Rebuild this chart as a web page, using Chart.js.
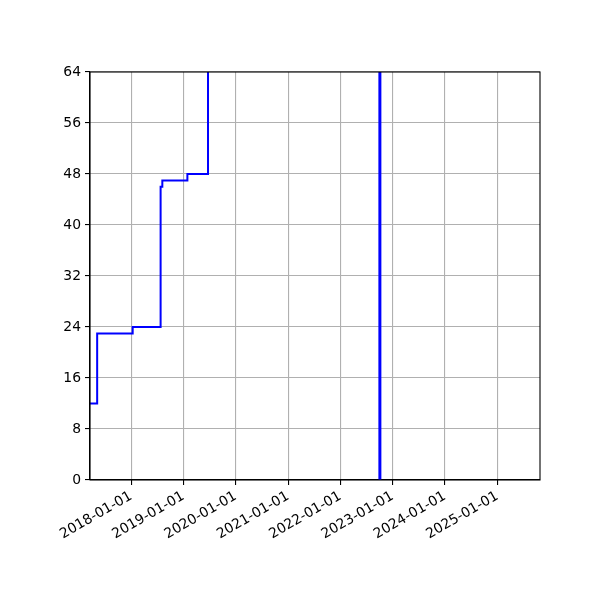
<!DOCTYPE html>
<html>
<head>
<meta charset="utf-8">
<script src="https://cdn.jsdelivr.net/npm/chart.js@4.4.1/dist/chart.umd.min.js"></script>
<style>
  html, body { margin: 0; padding: 0; background: #ffffff; }
  #wrap { width: 600px; height: 600px; }
</style>
</head>
<body>
<div id="wrap"><canvas id="c" width="600" height="600"></canvas></div>
<script>
// ---- data ----
const stepDates = ['2017-01-01', '2017-05-09', '2018-01-12', '2018-07-26', '2018-08-07', '2019-01-29', '2019-06-22'];
const stepValues = [12, 23, 24, 46, 47, 48, 128];
const markerDate = '2022-10-04';
const markerValues = [0, 64];
const xTickLabels = ['2018-01-01', '2019-01-01', '2020-01-01', '2021-01-01', '2022-01-01', '2023-01-01', '2024-01-01', '2025-01-01'];
const xRange = ['2017-03-20', '2025-10-26'];
const yTicks = [0, 8, 16, 24, 32, 40, 48, 56, 64];

const toMs = s => Date.parse(s + 'T00:00:00Z');
const fmt = v => {
  const d = new Date(v);
  const p = n => String(n).padStart(2, '0');
  return d.getUTCFullYear() + '-' + p(d.getUTCMonth() + 1) + '-' + p(d.getUTCDate());
};

const stepData = stepDates.map((d, i) => ({ x: toMs(d), y: stepValues[i] }));
const markerData = markerValues.map(v => ({ x: toMs(markerDate), y: v }));

const frame = {
  id: 'frame',
  afterDatasetsDraw(chart) {
    const a = chart.chartArea, ctx = chart.ctx;
    ctx.save();
    ctx.strokeStyle = '#000';
    ctx.lineWidth = 1.1;
    ctx.strokeRect(a.left, a.top, a.right - a.left, a.bottom - a.top);
    ctx.restore();
  }
};

const font = { family: 'DejaVu Sans', size: 13.9 };

new Chart(document.getElementById('c'), {
  type: 'line',
  data: {
    datasets: [
      { data: stepData, borderColor: '#0000ff', borderWidth: 2, stepped: 'before', pointRadius: 0, fill: false },
      { data: markerData, borderColor: '#0000ff', borderWidth: 3, pointRadius: 0, fill: false }
    ]
  },
  options: {
    responsive: false,
    animation: false,
    devicePixelRatio: 1,
    layout: { padding: { left: 0, top: 72, right: 60, bottom: 0 } },
    plugins: { legend: { display: false }, tooltip: { enabled: false } },
    scales: {
      x: {
        type: 'linear',
        min: toMs(xRange[0]),
        max: toMs(xRange[1]),
        afterBuildTicks(scale) { scale.ticks = xTickLabels.map(s => ({ value: toMs(s) })); },
        afterFit(scale) { scale.height = 120; },
        ticks: { callback: v => fmt(v), minRotation: 30, maxRotation: 30, color: '#000', font, padding: 3, autoSkip: false },
        grid: { color: '#b0b0b0', lineWidth: 1.1, tickColor: '#000', tickLength: 5, tickWidth: 1.1 },
        border: { color: '#000', width: 1.1 }
      },
      y: {
        min: 0,
        max: 64,
        afterBuildTicks(scale) { scale.ticks = yTicks.map(v => ({ value: v })); },
        afterFit(scale) { scale.width = 90; },
        ticks: { color: '#000', font, padding: 4 },
        grid: { color: '#b0b0b0', lineWidth: 1.1, tickColor: '#000', tickLength: 5, tickWidth: 1.1 },
        border: { color: '#000', width: 1.1 }
      }
    }
  },
  plugins: [frame]
});
</script>
</body>
</html>
